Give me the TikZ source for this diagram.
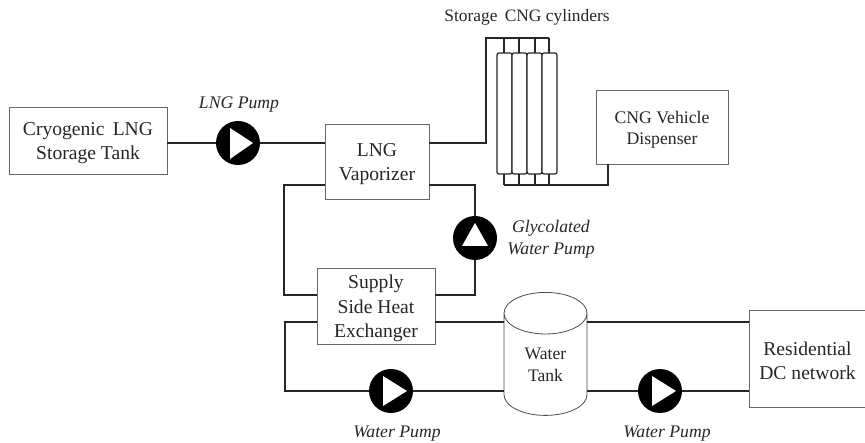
\documentclass[tikz,border=0pt]{standalone}
\usepackage{fontspec}
\setmainfont{Liberation Serif}
\usetikzlibrary{shapes.geometric}
\tikzset{
  unit/.style={draw=black!60, line width=0.9pt, fill=white},
  unittext/.style={align=center, text=black!85, yshift=-2.5pt, font=\fontsize{19.6}{24.5}\selectfont},
  pipe/.style={line width=2pt, color=black!85},
  thinpipe/.style={line width=1.5pt, color=black!85},
  pumpbody/.style={circle, fill=black, minimum size=44pt, inner sep=0pt},
  pumplabel/.style={font=\fontsize{17.7}{21.5}\selectfont\itshape, align=center, text=black!85},
  bottle/.style={draw=black!85, line width=1.2pt, rounded corners=2pt, fill=white},
  storetank/.style={cylinder, shape border rotate=90, shape aspect=1, draw=black!70, line width=0.8pt, fill=white, align=center, inner sep=0pt, minimum width=83pt, minimum height=123pt, text=black!85, font=\fontsize{17.6}{22}\selectfont}
}
\begin{document}
\begin{tikzpicture}[x=1pt, y=-1pt]
  \useasboundingbox (0, 0) rectangle (865, 443);
  % equipment
  \node [unit, minimum width=158pt, minimum height=67pt, label={[unittext]center:{Cryogenic\, LNG\\Storage Tank}}] (tank) at (88, 140.5) {};
  \node [unit, minimum width=104pt, minimum height=75pt, label={[unittext]center:{LNG\\Vaporizer}}] (vap) at (377, 161.5) {};
  \node [unit, minimum width=118pt, minimum height=76pt, label={[unittext]center:{Supply\\Side Heat\\Exchanger}}] (hex) at (376, 306) {};
  \node [unit, minimum width=132pt, minimum height=74pt, label={[unittext, font=\fontsize{17.7}{21}\selectfont]center:{CNG Vehicle\\Dispenser}}] (disp) at (662, 127) {};
  \node [unit, minimum width=117pt, minimum height=97pt, label={[unittext]center:{Residential\\DC network}}] (res) at (807.5, 358.5) {};
  \node [storetank] (wtank) at (545.5, 364.5) {Water\\Tank};
  % pumps
  \node [pumpbody] (lngp) at (238, 143) {};
  \node [pumpbody] (glyp) at (475, 238) {};
  \node [pumpbody] (wp1) at (391, 391) {};
  \node [pumpbody] (wp2) at (660, 391) {};
  \fill [white] (230, 128) -- (253, 143) -- (230, 159) -- cycle;
  \fill [white] (462, 246) -- (475, 223) -- (488, 246) -- cycle;
  \fill [white] (383, 376) -- (407, 391) -- (383, 406) -- cycle;
  \fill [white] (652, 376) -- (676, 391) -- (652, 406) -- cycle;
  \node [pumplabel] (lngl) at (239, 105) {LNG Pump};
  \node [pumplabel] (glyl) at (551, 239) {Glycolated\\Water Pump};
  \node [pumplabel] (wl1) at (397, 433.5) {Water Pump};
  \node [pumplabel] (wl2) at (667, 433.5) {Water Pump};
  % pipes
  \coordinate (c1) at (486, 143);
  \coordinate (c2) at (486, 38);
  \coordinate (c3) at (549, 38);
  \coordinate (d1) at (504, 185);
  \coordinate (d2) at (608, 185);
  \draw [pipe] (tank.east |- lngp) -- (lngp);
  \draw [pipe] (lngp) -- (vap.west |- lngp);
  \draw [pipe] (vap.east |- c1) -- (c1) -- (c2) -- (c3);
  \draw [pipe] (d1) -- (d2) -- (d2 |- disp.south);
  \foreach \x in {504, 519, 535, 549} {
    \draw [thinpipe] (\x, 38) -- (\x, 60);
    \draw [thinpipe] (\x, 170) -- (\x, 185);
  }
  \foreach \x in {497, 512, 527, 542} {
    \draw [bottle] (\x, 53) rectangle (\x + 15, 174);
  }
  \node [text=black!85, font=\fontsize{17.4}{20}\selectfont] (cyl) at (527, 17) {Storage\, CNG cylinders};
  \draw [pipe] (vap.west |- 0, 185) -| (284, 295) -- (hex.west |- 0, 295);
  \draw [pipe] (vap.east |- 0, 185) -| (glyp.north);
  \draw [pipe] (glyp.south) |- (hex.east |- 0, 295);
  \draw [pipe] (hex.west |- 0, 322) -| (285, 391) -- (wp1);
  \draw [pipe] (hex.east |- 0, 322) -- (wtank.west |- 0, 322);
  \draw [pipe] (wtank.east |- 0, 322) -- (res.west |- 0, 322);
  \draw [pipe] (wp1) -- (wtank.west |- wp1);
  \draw [pipe] (wtank.east |- wp2) -- (wp2);
  \draw [pipe] (wp2) -- (res.west |- wp2);
\end{tikzpicture}
\end{document}
